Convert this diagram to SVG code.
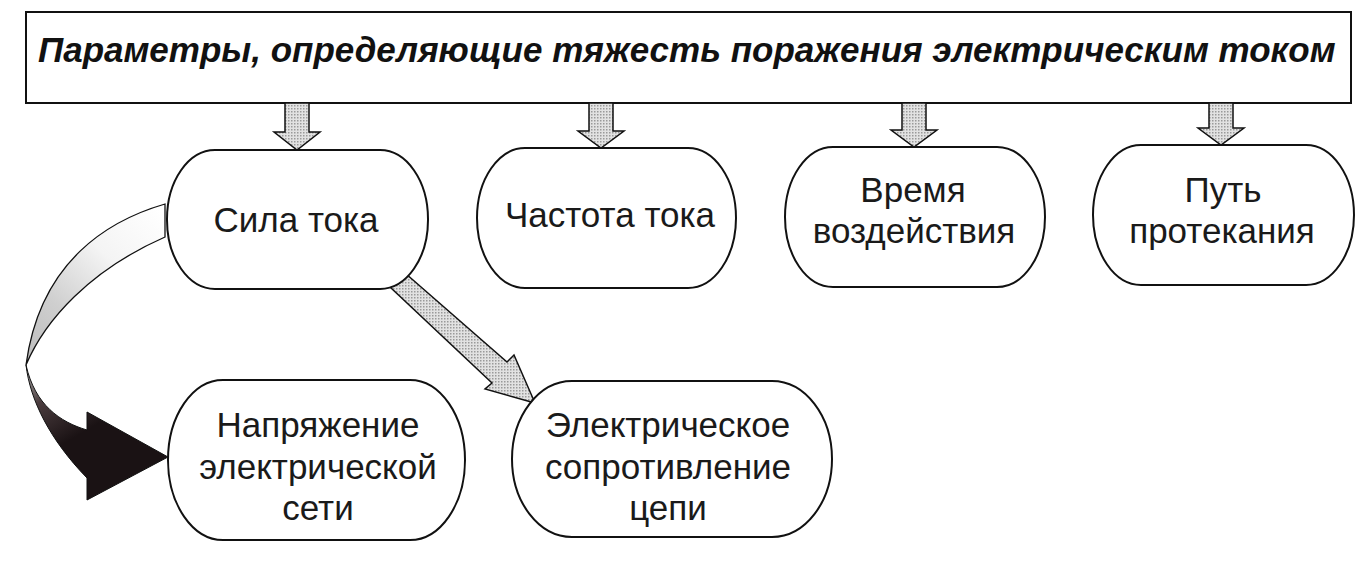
<svg xmlns="http://www.w3.org/2000/svg" width="1369" height="564" viewBox="0 0 1369 564">
<defs>
<style>
.node{fill:#ffffff;stroke:#111;stroke-width:2}
.lbl{font-family:"Liberation Sans",Arial,sans-serif;font-size:35px;fill:#1a1a1a;text-anchor:middle}
.title{font-family:"Liberation Sans",Arial,sans-serif;font-size:35px;font-weight:bold;font-style:italic;fill:#111}
.blk{fill:url(#dots);stroke:#111;stroke-width:1.5;stroke-linejoin:miter}
</style>
<pattern id="dots" width="3" height="3" patternUnits="userSpaceOnUse">
<rect width="3" height="3" fill="#e2e2e2"/>
<rect width="1.5" height="1.5" fill="#9a9a9a"/>
</pattern>
<linearGradient id="lightG" gradientUnits="userSpaceOnUse" x1="165" y1="215" x2="28" y2="360">
<stop offset="0" stop-color="#ffffff"/>
<stop offset="0.35" stop-color="#f4f4f4"/>
<stop offset="0.7" stop-color="#cfcfcf"/>
<stop offset="1" stop-color="#bdbdbd"/>
</linearGradient>
<linearGradient id="darkG" gradientUnits="userSpaceOnUse" x1="26" y1="365" x2="70" y2="440">
<stop offset="0" stop-color="#b8b8b8"/>
<stop offset="0.45" stop-color="#4a3c3e"/>
<stop offset="1" stop-color="#1a1214"/>
</linearGradient>
</defs>
<rect width="1369" height="564" fill="#ffffff"/>

<g id="header">
<rect x="26" y="12" width="1325" height="91" fill="#ffffff" stroke="#111" stroke-width="2"/>
<text class="title" x="38" y="62">Параметры, определяющие тяжесть поражения электрическим током</text>
</g>

<g id="connectors">
<path class="blk" d="M285,103 L309,103 L309,132 L320,132 L297,150 L274,132 L285,132 Z"/>
<path class="blk" d="M589,103 L613,103 L613,131 L624,131 L601,148 L578,131 L589,131 Z"/>
<path class="blk" d="M902,103 L926,103 L926,130 L937,130 L914,147 L891,130 L902,130 Z"/>
<path class="blk" d="M1209,103 L1233,103 L1233,128 L1244,128 L1221,145 L1198,128 L1209,128 Z"/>
<path class="blk" d="M405,273 L507,362 L514,355 L535,403 L485,389 L492,383 L390,287 Z"/>
<path d="M165,204 C110,220 40,260 26,365 C45,320 90,270 165,237 Z" fill="url(#lightG)" stroke="#111" stroke-width="1.3"/>
<path d="M26,365 C30,400 50,440 87,478 L87,500 L168,457 L87,412 L87,430 C60,422 35,405 26,365 Z" fill="url(#darkG)" stroke="#111" stroke-width="1"/>
</g>

<g id="node-sila">
<rect class="node" x="167" y="150" width="261" height="139" rx="48" ry="69"/>
<text class="lbl" x="296" y="232">Сила тока</text>
</g>
<g id="node-chastota">
<rect class="node" x="477" y="148" width="259" height="140" rx="48" ry="70"/>
<text class="lbl" x="610" y="227">Частота тока</text>
</g>
<g id="node-vremya">
<rect class="node" x="785" y="147" width="260" height="140" rx="48" ry="70"/>
<text class="lbl" x="913" y="202">Время</text>
<text class="lbl" x="914" y="243">воздействия</text>
</g>
<g id="node-put">
<rect class="node" x="1093" y="145" width="261" height="140" rx="48" ry="70"/>
<text class="lbl" x="1223" y="202">Путь</text>
<text class="lbl" x="1222" y="243">протекания</text>
</g>
<g id="node-napryazhenie">
<rect class="node" x="168" y="380" width="297" height="160" rx="55" ry="80"/>
<text class="lbl" x="318" y="437">Напряжение</text>
<text class="lbl" x="318" y="479">электрической</text>
<text class="lbl" x="318" y="520">сети</text>
</g>
<g id="node-soprotivlenie">
<rect class="node" x="512" y="381" width="320" height="156" rx="60" ry="78"/>
<text class="lbl" x="668" y="437">Электрическое</text>
<text class="lbl" x="668" y="479">сопротивление</text>
<text class="lbl" x="668" y="520">цепи</text>
</g>
</svg>
